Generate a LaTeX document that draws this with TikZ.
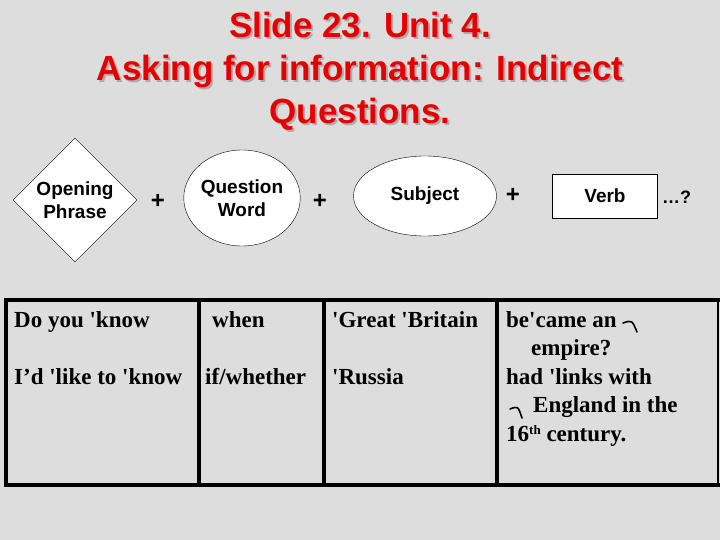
\documentclass[tikz,border=0pt]{standalone}
\usepackage{fontspec}
\setmainfont{Liberation Serif}
\newfontfamily\arialfont{Liberation Sans}
\usetikzlibrary{shapes.geometric}
\definecolor{slidegray}{RGB}{221,221,221}
\definecolor{titlered}{RGB}{232,0,0}
\newcommand{\stress}{\textquotesingle}
\begin{document}
\begin{tikzpicture}[x=1pt, y=-1pt,
      titletext/.style = {align=center, font=\arialfont\bfseries\fontsize{35}{43}\selectfont},
      partbox/.style = {draw, fill=white, align=center, inner sep=0pt,
        font=\arialfont\bfseries\fontsize{19}{23}\selectfont},
      plus/.style = {font=\arialfont\bfseries\fontsize{24}{24}\selectfont, inner sep=0pt},
      cell/.style = {anchor=base west, inner sep=0pt,
        font=\bfseries\fontsize{23}{28}\selectfont},
      rule/.style = {line width=4pt},
      tonemark/.style = {line width=1.6pt, line cap=round}]
      \useasboundingbox (0,0) rectangle (720,540);
      \fill[slidegray] (0,0) rectangle (720,540);
      \node[titletext, text=gray!65] (titleshade) at (362,73)
        {Slide 23. Unit 4.\\Asking for information: Indirect\\Questions.};
      \node[titletext, text=titlered] (title) at (360,71)
        {Slide 23. Unit 4.\\Asking for information: Indirect\\Questions.};
      \node[partbox, diamond, minimum width=124pt, minimum height=124pt] (opening) at (75,200) {Opening\\Phrase};
      \node[plus] (plusa) at (158,201) {+};
      \node[partbox, ellipse, minimum width=112pt, minimum height=96pt] (qword) at (242,198) {Question\\Word};
      \node[plus] (plusb) at (320,201) {+};
      \node[partbox, ellipse, minimum width=143pt, minimum height=80pt] (subject) at (425,196) {Subject};
      \node[plus] (plusc) at (513,195) {+};
      \node[partbox, rectangle, minimum width=105pt, minimum height=44pt] (verb) at (605,196) {Verb};
      \node[font=\arialfont\bfseries\fontsize{18}{18}\selectfont, anchor=west, inner sep=0pt] (dots) at (662,197) {\dots?};
      \draw[rule] (4,300) -- (720,300);
      \draw[rule] (4,485) -- (720,485);
      \draw[rule] (6,298) -- (6,487);
      \draw[rule] (199,300) -- (199,485);
      \draw[rule] (324,300) -- (324,485);
      \draw[rule] (497,300) -- (497,485);
      \draw[line width=2pt] (718,300) -- (718,485);
      \node[cell] (opena) at (14,327) {Do you \stress know};
      \node[cell] (openb) at (14,384) {I’d \stress like to \stress know};
      \node[cell] (wordsa) at (212,327) {when};
      \node[cell] (wordsb) at (205,384) {if/whether};
      \node[cell] (subja) at (332,327) {\stress Great \stress Britain};
      \node[cell] (subjb) at (332,384) {\stress Russia};
      \node[cell] (verba) at (506,327) {be\stress came an};
      \node[cell] (verbb) at (531,355) {empire?};
      \node[cell] (verbc) at (506,384) {had \stress links with};
      \node[cell] (verbd) at (533,412) {England in the};
      \node[cell] (verbe) at (506,441) {16\raisebox{7pt}{\fontsize{13}{13}\selectfont th} century.};
      \draw[tonemark] (623,323) .. controls (632,320) .. (637,332);
      \draw[tonemark] (510,409) .. controls (518,406) .. (522,418);
  \end{tikzpicture}
\end{document}
